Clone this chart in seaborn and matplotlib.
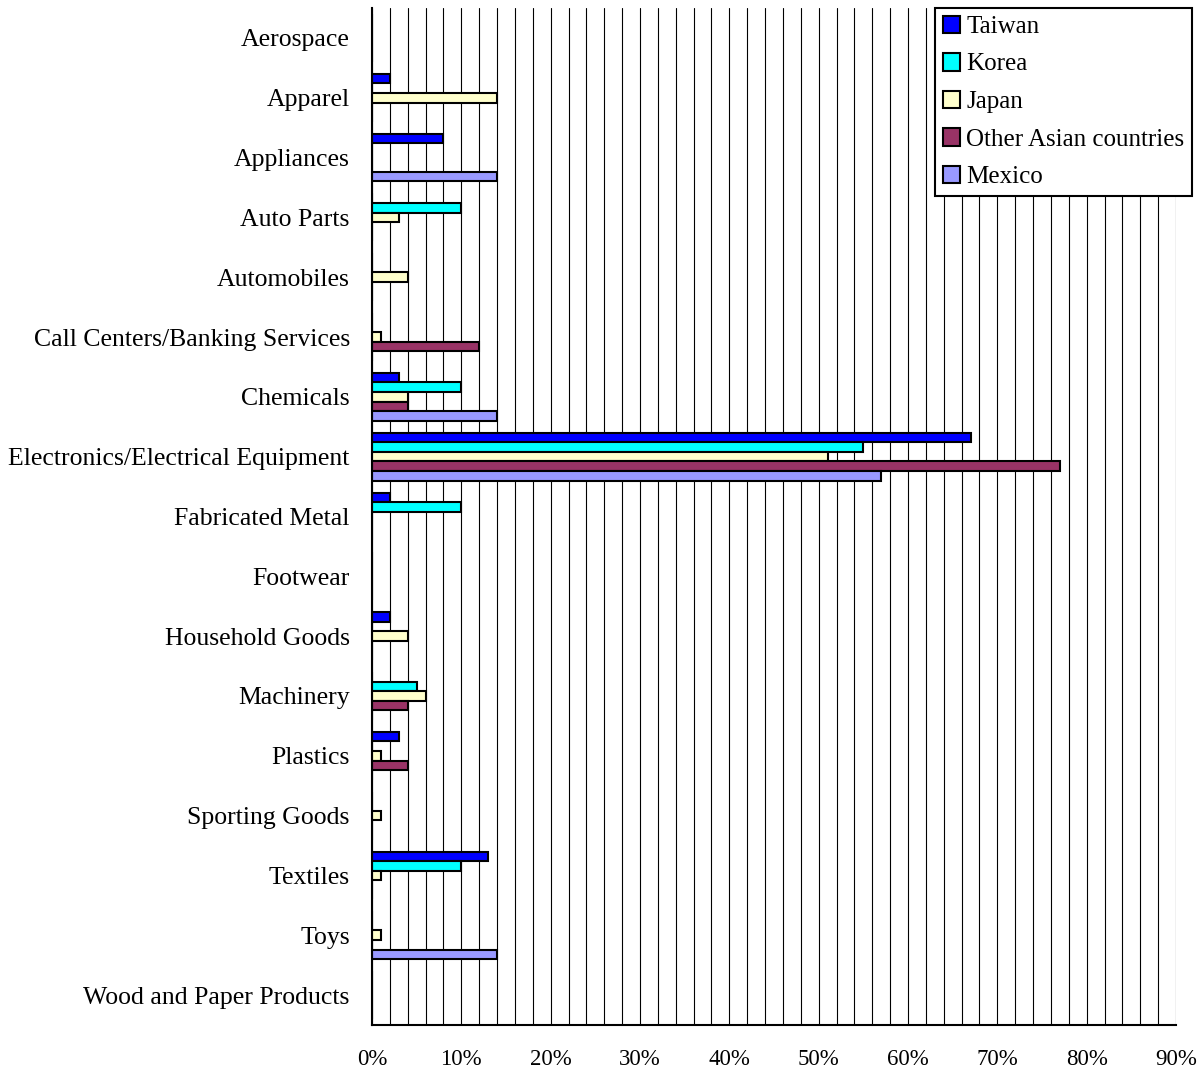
import numpy as np
import pandas as pd
import matplotlib
matplotlib.use("Agg")
import matplotlib.pyplot as plt
import seaborn as sns

categories = ["Aerospace", "Apparel", "Appliances", "Auto Parts", "Automobiles",
              "Call Centers/Banking Services", "Chemicals",
              "Electronics/Electrical Equipment", "Fabricated Metal", "Footwear",
              "Household Goods", "Machinery", "Plastics", "Sporting Goods",
              "Textiles", "Toys", "Wood and Paper Products"]
series = ["Taiwan", "Korea", "Japan", "Other Asian countries", "Mexico"]
taiwan = [0, 2, 8, 0, 0, 0, 3, 67, 2, 0, 2, 0, 3, 0, 13, 0, 0]
korea = [0, 0, 0, 10, 0, 0, 10, 55, 10, 0, 0, 5, 0, 0, 10, 0, 0]
japan = [0, 14, 0, 3, 4, 1, 4, 51, 0, 0, 4, 6, 1, 1, 1, 1, 0]
other_asian = [0, 0, 0, 0, 0, 12, 4, 77, 0, 0, 0, 4, 4, 0, 0, 0, 0]
mexico = [0, 0, 14, 0, 0, 0, 14, 57, 0, 0, 0, 0, 0, 0, 0, 14, 0]
colors = ["#0000FF", "#00FFFF", "#FFFFCC", "#993366", "#9999FF"]

df = pd.DataFrame({"Category": categories * 5,
                   "Series": np.repeat(series, len(categories)),
                   "Value": taiwan + korea + japan + other_asian + mexico})

sns.set_style("white")
plt.rcParams["font.family"] = ["Liberation Serif", "DejaVu Serif"]
plt.rcParams["text.color"] = "black"
plt.rcParams["xtick.color"] = "black"
plt.rcParams["ytick.color"] = "black"

fig = plt.figure(figsize=(12.01, 10.69), dpi=100)
ax = fig.add_axes([372 / 1201, 1 - 1025 / 1069, (1176 - 372) / 1201, (1025 - 8) / 1069])

sns.barplot(data=df, y="Category", x="Value", hue="Series", order=categories,
            hue_order=series, palette=colors, orient="h", width=0.8,
            edgecolor="black", linewidth=1.5, saturation=1, ax=ax, legend=True)

ax.set_xlim(0, 90)
ax.set_ylim(len(categories) - 0.5, -0.5)
ax.set_xticks(np.arange(0, 91, 10))
ax.set_xticks(np.arange(0, 91, 2), minor=True)
ax.set_xticklabels([f"{v}%" for v in range(0, 91, 10)], fontsize=16.5)
ax.xaxis.grid(True, which="both", color="black", linewidth=0.8)
ax.yaxis.grid(False)
ax.set_axisbelow(True)

ax.set_yticks(np.arange(len(categories)))
ax.set_yticklabels(categories, fontsize=18.5)
ax.set_yticks(np.arange(-0.5, len(categories), 1), minor=True)
ax.tick_params(axis="y", which="major", length=0, pad=16)
ax.tick_params(axis="y", which="minor", length=7, width=1.5, direction="out")
ax.tick_params(axis="x", which="major", length=5, width=1.5, direction="out", pad=12)
ax.tick_params(axis="x", which="minor", length=0)
ax.set_xlabel("")
ax.set_ylabel("")

for side in ["top", "right"]:
    ax.spines[side].set_visible(False)
for side in ["left", "bottom"]:
    ax.spines[side].set_color("black")
    ax.spines[side].set_linewidth(1.5)

handles, labels = ax.get_legend_handles_labels()
ax.get_legend().remove()
leg = fig.legend(handles, labels, loc="upper right", bbox_to_anchor=(1192 / 1201, 1 - 8 / 1069),
                 fontsize=18, frameon=True, fancybox=False, framealpha=1,
                 handlelength=0.7, handleheight=0.7, handletextpad=0.25,
                 labelspacing=0.6, borderpad=0.3, borderaxespad=0)
leg.get_frame().set_edgecolor("black")
leg.get_frame().set_linewidth(1.5)

fig.savefig("out.png", dpi=100)
